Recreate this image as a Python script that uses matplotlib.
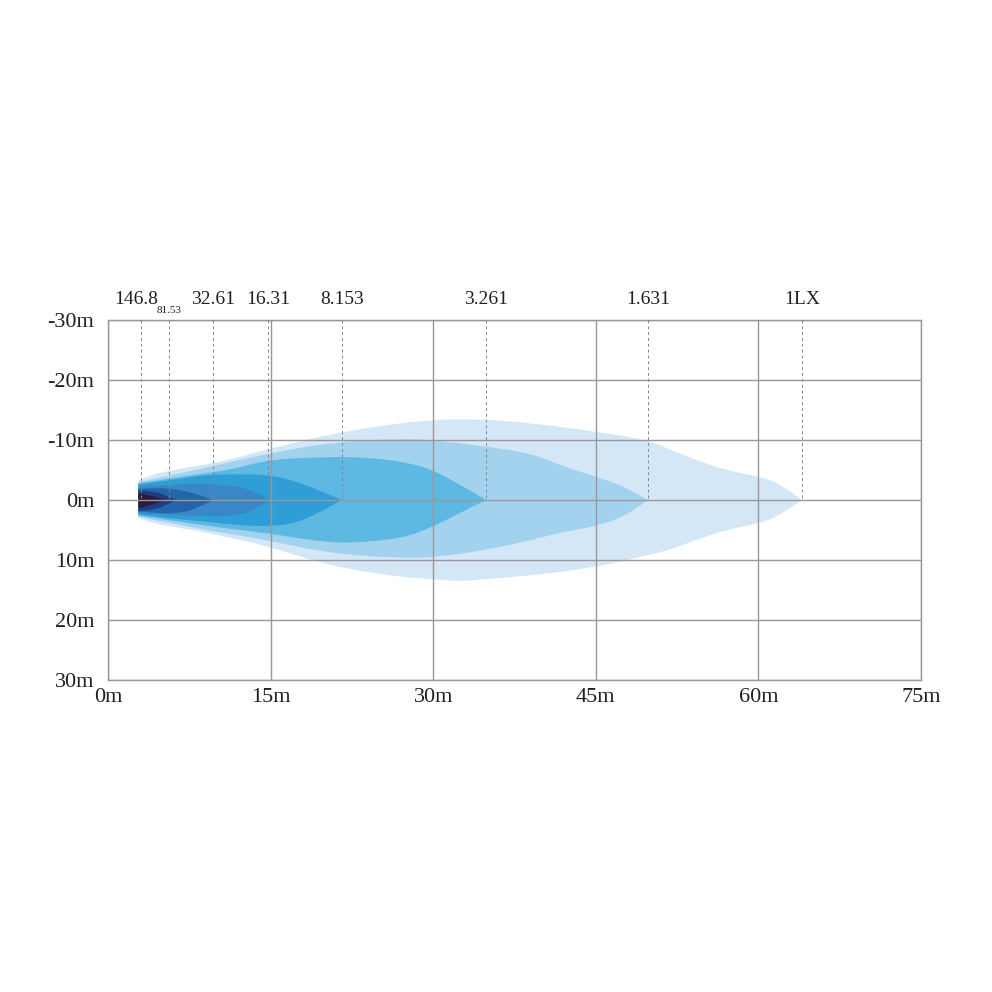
import matplotlib.pyplot as plt
from matplotlib.path import Path
from matplotlib.patches import PathPatch
from matplotlib.transforms import blended_transform_factory

plt.rcParams['font.family'] = ['Liberation Serif', 'DejaVu Serif']

# iso-lux contours (lux value, x in m, upper edge y, lower edge y)
lux_labels = ["1LX", "1.631", "3.261", "8.153", "16.31", "32.61", "81.53", "146.8"]
colors = ["#d3e7f6", "#a3d2ef", "#5eb9e2", "#2f9dd6", "#3a87c7", "#2464a8", "#1e3d7e", "#2b1b3d"]

x_1lx = [2.8, 4, 6, 8.5, 11, 15, 20.5, 26.7, 30, 32.5, 36, 40, 45, 49.8, 52, 54.3, 57, 60, 62, 64.0]
top_1lx = [-3.3, -4.2, -5.0, -5.8, -6.6, -8.6, -11.0, -12.8, -13.3, -13.5, -13.3, -12.6, -11.4, -10.0, -8.3, -6.6, -5.0, -3.9, -2.8, 0]
bot_1lx = [3.0, 3.8, 4.5, 5.2, 6.2, 7.8, 11.0, 12.8, 13.2, 13.6, 13.0, 12.4, 11.2, 9.2, 8.2, 6.6, 5.0, 3.9, 2.6, 0]

x_1631 = [2.8, 5, 8.5, 11, 15, 20.5, 26.7, 30, 35, 39, 42, 45, 48, 49.8]
top_1631 = [-3.0, -3.8, -5.2, -6.2, -7.8, -9.6, -10.2, -10.0, -8.9, -7.8, -5.6, -3.9, -2.0, 0]
bot_1631 = [2.8, 3.6, 4.8, 5.6, 6.8, 8.9, 9.7, 9.6, 8.3, 6.7, 5.3, 4.4, 2.5, 0]

x_3261 = [2.8, 5, 8, 11.2, 15, 20.5, 24, 27.5, 30, 32, 33.5, 34.9]
top_3261 = [-2.8, -3.4, -4.2, -5.0, -6.8, -7.2, -7.1, -6.3, -5.0, -3.0, -1.5, 0]
bot_3261 = [2.6, 3.2, 4.0, 4.8, 5.6, 7.2, 7.0, 6.2, 4.4, 2.6, 1.2, 0]

x_8153 = [2.8, 4.5, 6.5, 9, 12, 15, 17.5, 20, 21.6]
top_8153 = [-2.6, -3.0, -3.5, -4.2, -4.3, -4.2, -3.0, -1.2, 0]
bot_8153 = [2.4, 2.8, 3.2, 3.6, 4.2, 4.4, 3.8, 1.6, 0]

x_1631b = [2.8, 5, 8, 11.2, 13.7, 14.8]
top_1631b = [-2.2, -2.4, -2.8, -2.5, -1.4, 0]
bot_1631b = [2.2, 2.4, 2.6, 2.8, 1.7, 0]

x_3261b = [2.8, 4.5, 6.6, 8.2, 9.7]
top_3261b = [-1.8, -2.1, -1.7, -1.0, 0]
bot_3261b = [1.9, 2.2, 2.2, 1.4, 0]

x_8153b = [2.8, 4.0, 5.2, 6.3]
top_8153b = [-1.6, -1.5, -0.9, 0]
bot_8153b = [1.8, 1.7, 1.0, 0]

x_1468 = [2.8, 3.8, 5.3]
top_1468 = [-1.1, -0.9, 0]
bot_1468 = [1.3, 1.0, 0]

contours = [
    (x_1lx, top_1lx, bot_1lx),
    (x_1631, top_1631, bot_1631),
    (x_3261, top_3261, bot_3261),
    (x_8153, top_8153, bot_8153),
    (x_1631b, top_1631b, bot_1631b),
    (x_3261b, top_3261b, bot_3261b),
    (x_8153b, top_8153b, bot_8153b),
    (x_1468, top_1468, bot_1468),
]

# dashed marker positions (m) for each label
marker_x = [64.0, 49.8, 34.9, 21.6, 14.8, 9.7, 5.6, 3.05]


def smooth_edge(pts, verts, codes):
    # quadratic curves through midpoints, the read points act as control points
    for i in range(1, len(pts) - 1):
        mid = ((pts[i][0] + pts[i + 1][0]) / 2, (pts[i][1] + pts[i + 1][1]) / 2)
        if i == len(pts) - 2:
            mid = pts[-1]
        verts += [pts[i], mid]
        codes += [Path.CURVE3, Path.CURVE3]


def blob_path(xs, ys_top, ys_bot):
    top = list(zip(xs, ys_top))
    bot = list(zip(xs, ys_bot))[::-1]
    verts = [top[0]]
    codes = [Path.MOVETO]
    smooth_edge(top, verts, codes)
    verts.append(bot[0])
    codes.append(Path.LINETO)
    smooth_edge(bot, verts, codes)
    verts.append(top[0])
    codes.append(Path.CLOSEPOLY)
    return Path(verts, codes)


fig = plt.figure(figsize=(9.92, 9.92), dpi=100)
ax = fig.add_axes([0.1089, 0.3145, 0.8195, 0.3629])

for (xs, ys_top, ys_bot), c in zip(contours, colors):
    ax.add_patch(PathPatch(blob_path(xs, ys_top, ys_bot), facecolor=c, lw=0, zorder=1))

ax.set_xlim(0, 75)
ax.set_ylim(30, -30)
xt = [0, 15, 30, 45, 60, 75]
yt = [-30, -20, -10, 0, 10, 20, 30]
ax.set_xticks(xt)
ax.set_xticklabels([f"{v}m" for v in xt])
ax.set_yticks(yt)
ax.set_yticklabels([f"{v}m" for v in yt])
ax.tick_params(length=0, labelsize=16, colors="#231f20", pad=10)
ax.tick_params(axis="x", pad=6)
ax.grid(True, color="#9c9696", lw=1, zorder=2)
ax.set_axisbelow(False)
for s in ax.spines.values():
    s.set_color("#9c9696")
    s.set_linewidth(1)

trans = blended_transform_factory(ax.transData, ax.transAxes)
for lab, mx in zip(lux_labels, marker_x):
    ax.plot([mx, mx], [-30, 0], ls=(0, (3, 3)), color="#8a8585", lw=0.7, zorder=3)
    if lab == "81.53":
        ax.text(mx, 1.015, lab, transform=trans, ha="center", va="bottom", fontsize=8, color="#231f20")
    elif lab == "146.8":
        ax.text(mx - 0.45, 1.033, lab, transform=trans, ha="center", va="bottom", fontsize=14, color="#231f20")
    else:
        ax.text(mx, 1.033, lab, transform=trans, ha="center", va="bottom", fontsize=14, color="#231f20")

fig.savefig("out.png", dpi=100, facecolor="white")
